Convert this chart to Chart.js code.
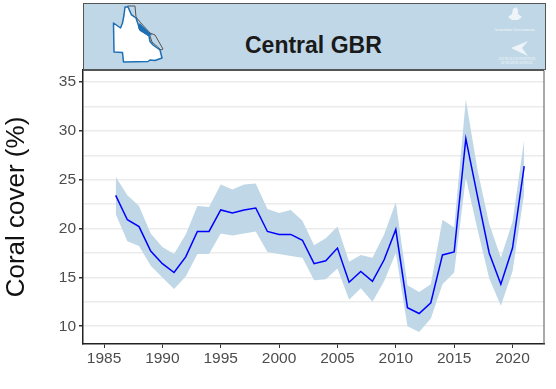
<!DOCTYPE html>
<html lang="en">
<head>
<meta charset="UTF-8">
<title>Central GBR</title>
<script src="https://cdn.jsdelivr.net/npm/chart.js"></script>
<style>
    body { margin: 0; background: #fff; font-family: "Liberation Sans", sans-serif; }
    #wrap { position: relative; width: 556px; height: 389px; overflow: hidden; }
    #banner { position: absolute; left: 83px; top: 3px; width: 461px; height: 65px; background: #bfd7e6; border: 1px solid #555; }
    #banner svg { position: absolute; left: -1px; top: -1px; }
    #titulo { position: absolute; left: 161px; top: 28px; font-size: 23px; line-height: 27px; font-weight: bold; color: #1a1a1a; white-space: nowrap; }
    .logo { position: absolute; color: #f4f8fb; white-space: nowrap; text-align: center; font-family: "Liberation Serif", serif; }
    canvas { display: block; }
</style>
</head>
<body>
<div id="wrap">
    <canvas id="myChart" width="556" height="389"></canvas>
    <div id="banner">
        <svg width="463" height="67" viewBox="83 3 463 67">
            <path d="M127.5 6 L135 6 L136 17 L140 22 L150 33 L155 35 L163 49 L161 50 L152 42 L150 36 L140 31 L136 18 L131 14 Z" fill="none" stroke="#555" stroke-width="1"/>
            <path d="M125 7 L124 15 L122.500 23 L120.500 28 L113.500 23 L114 52 L122.500 52.500 L123.500 62 L148 61.500 L150 60 L155 60.500 L162 58 L160 50 L153 45 L150 41.500 L149 36 L140 30 L136 18 L131.500 15 L128 7 Z" fill="#fff" stroke="#1f6fb5" stroke-width="1.500" stroke-linejoin="round"/>
            <path d="M138 28 L139.500 23 L150 33 L152 35 L149 36 L140 31 Z" fill="#1f6fb5"/>
            <path d="M508 17 L512 14 L513 9 L516 7 L518 10 L518 14 L522 17 L518 20 L512 20 Z" fill="#eef4f8"/>
            <path d="M511 48 L528 41 L522 48 L528 56 Z" fill="#eef4f8"/>
        </svg>
        <div id="titulo">Central GBR</div>
        <div class="logo" style="left:410px;top:23px;font-size:4.300px;line-height:5px;">Australian Government</div>
        <div class="logo" style="left:414px;top:53px;font-size:3.200px;line-height:4px;">AUSTRALIAN INSTITUTE<br>OF MARINE SCIENCE</div>
    </div>
</div>

<script>
    const anos = [1986, 1987, 1988, 1989, 1990, 1991, 1992, 1993, 1994, 1995, 1996, 1997,
        1998, 1999, 2000, 2001, 2002, 2003, 2004, 2005, 2006, 2007, 2008, 2009,
        2010, 2011, 2012, 2013, 2014, 2015, 2016, 2017, 2018, 2019, 2020, 2021];

    const media = [23.4, 20.9, 20.2, 17.7, 16.4, 15.5, 17.1, 19.7, 19.7, 21.9, 21.6, 21.9,
        22.1, 19.7, 19.4, 19.4, 18.8, 16.4, 16.7, 18.0, 14.5, 15.6, 14.6, 16.8,
        19.9, 11.9, 11.3, 12.4, 17.3, 17.6, 29.2, 23.3, 17.5, 14.3, 18.0, 26.4];

    const superior = [25.3, 23.4, 22.3, 19.5, 18.1, 17.4, 19.4, 22.3, 22.2, 24.5, 24.0, 24.5,
        24.6, 22.0, 21.6, 21.9, 20.8, 18.3, 19.0, 20.2, 16.6, 17.3, 17.0, 19.4,
        22.7, 14.2, 13.5, 14.3, 20.9, 20.1, 33.2, 26.0, 20.5, 17.0, 20.7, 29.1];

    const inferior = [21.5, 18.7, 18.2, 16.2, 15.0, 13.8, 15.1, 17.4, 17.4, 19.5, 19.3, 19.5,
        19.7, 17.6, 17.4, 17.2, 17.0, 14.7, 14.8, 15.9, 12.7, 13.9, 12.5, 14.6,
        17.5, 10.0, 9.4, 10.8, 14.3, 15.5, 25.2, 19.9, 14.9, 12.1, 15.6, 23.6];

    function pontos(valores) {
        return anos.map((ano, i) => ({ x: ano, y: valores[i] }));
    }

    const corTexto = "#4d4d4d";
    const corGrade = "#ebebeb";

    new Chart(document.getElementById("myChart"), {
        type: "line",
        data: {
            datasets: [
                // a media vem primeiro para ficar por cima da faixa
                { data: pontos(media), borderColor: "#0000ff", borderWidth: 1.5, pointRadius: 0, fill: false, tension: 0 },
                { data: pontos(superior), borderWidth: 0, pointRadius: 0, fill: "+1", backgroundColor: "#bfd7e6" },
                { data: pontos(inferior), borderWidth: 0, pointRadius: 0, fill: false }
            ]
        },
        options: {
            responsive: false,
            animation: false,
            layout: { padding: { left: 0, right: 11.5, top: 70, bottom: 0 } },
            plugins: {
                legend: { display: false },
                title: { display: false },
                tooltip: { enabled: false }
            },
            scales: {
                x: {
                    type: "linear",
                    min: 1983.2,
                    max: 2022.74,
                    afterFit: scale => { scale.height = 45; },
                    border: { color: "#222", width: 1.5 },
                    grid: { drawOnChartArea: false, drawTicks: true, tickLength: 4, tickColor: "#333", tickWidth: 1 },
                    ticks: {
                        stepSize: 5,
                        includeBounds: false,
                        color: corTexto,
                        font: { family: "Liberation Sans", size: 15.5 },
                        maxRotation: 0,
                        autoSkip: false,
                        padding: 1,
                        callback: v => String(v)
                    }
                },
                y: {
                    min: 8.18,
                    max: 36.23,
                    afterFit: scale => { scale.width = 83; },
                    border: { color: "#222", width: 1.5 },
                    grid: {
                        color: corGrade,
                        lineWidth: 1.5,
                        tickLength: 4,
                        tickColor: ctx => (ctx.tick && ctx.tick.value % 5 === 0 ? "#333" : "rgba(0,0,0,0)")
                    },
                    ticks: {
                        stepSize: 2.5,
                        includeBounds: false,
                        color: corTexto,
                        font: { family: "Liberation Sans", size: 15.5 },
                        padding: 3,
                        autoSkip: false,
                        callback: v => (v % 5 === 0 ? String(v) : "")
                    },
                    title: {
                        display: true,
                        text: "Coral cover (%)",
                        color: "#111",
                        font: { family: "Liberation Sans", size: 26 },
                        padding: { top: 1, bottom: 0 }
                    }
                }
            }
        },
        plugins: [{
            // moldura fina em cima e na direita do painel
            id: "moldura",
            afterDatasetsDraw(chart) {
                const { ctx, chartArea: a } = chart;
                ctx.save();
                ctx.strokeStyle = "#555";
                ctx.lineWidth = 1;
                ctx.beginPath();
                ctx.moveTo(a.left, a.top + 0.5);
                ctx.lineTo(a.right - 0.5, a.top + 0.5);
                ctx.lineTo(a.right - 0.5, a.bottom);
                ctx.stroke();
                ctx.restore();
            }
        }]
    });
</script>
</body>
</html>
